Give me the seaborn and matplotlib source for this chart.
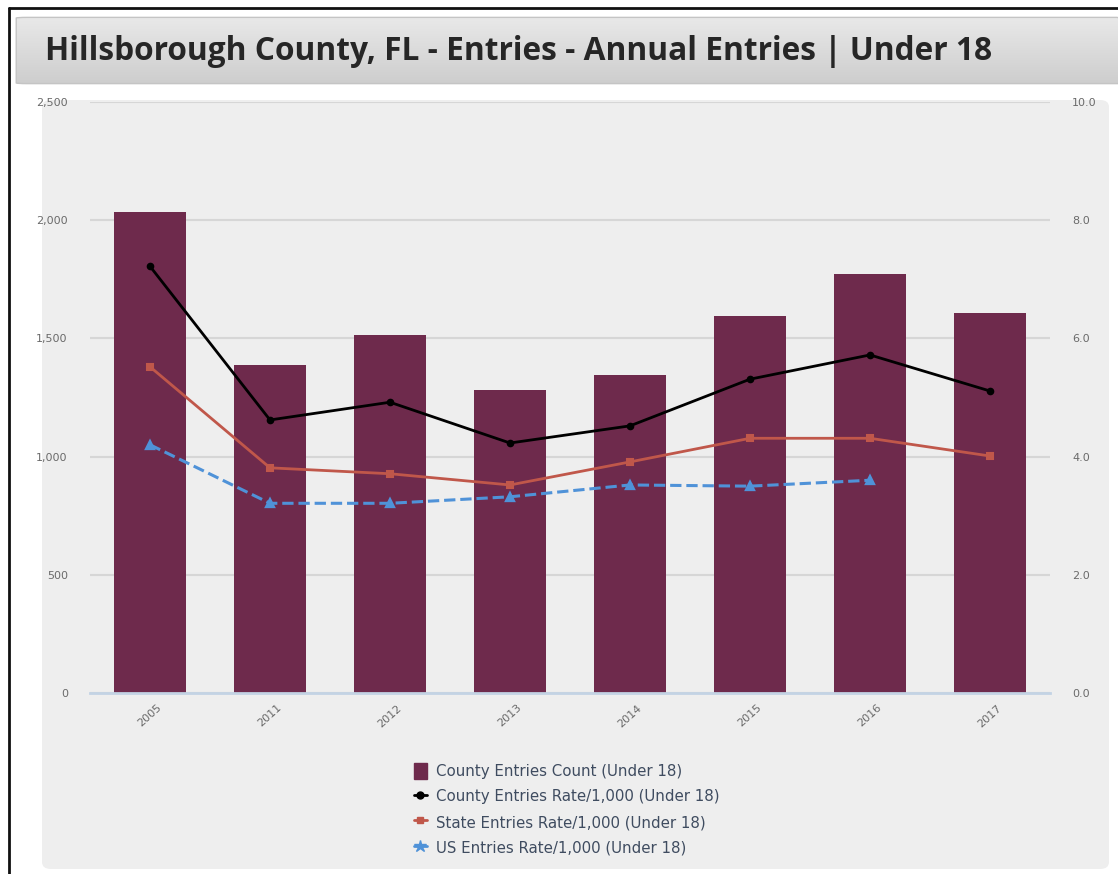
import numpy as np
import pandas as pd
import matplotlib
matplotlib.use("Agg")
import matplotlib.pyplot as plt
import seaborn as sns
from matplotlib.patches import FancyBboxPatch, Patch
from matplotlib.lines import Line2D
from matplotlib.ticker import FuncFormatter, FixedLocator

# ---- data ----
years = ["2005", "2011", "2012", "2013", "2014", "2015", "2016", "2017"]
county_count = [2035, 1387, 1514, 1282, 1345, 1595, 1772, 1607]
county_rate = [7.22, 4.62, 4.92, 4.23, 4.52, 5.31, 5.72, 5.11]
state_rate = [5.52, 3.81, 3.71, 3.52, 3.91, 4.31, 4.31, 4.01]
us_rate = [4.20, 3.21, 3.21, 3.32, 3.52, 3.50, 3.60, np.nan]
title = "Hillsborough County, FL - Entries - Annual Entries | Under 18"
legend_labels = ["County Entries Count (Under 18)",
                 "County Entries Rate/1,000 (Under 18)",
                 "State Entries Rate/1,000 (Under 18)",
                 "US Entries Rate/1,000 (Under 18)"]

df = pd.DataFrame({"year": years, "count": county_count,
                   "county": county_rate, "state": state_rate, "us": us_rate})

BAR = "#6e2a4c"
RED = "#c0574a"
BLUE = "#4f92d8"
BLACK = "#000000"
TXT = "#6a6a6a"

sns.set_theme(style="white")
plt.rcParams["font.family"] = ["DejaVu Sans"]

W, H = 1118, 874
fig = plt.figure(figsize=(W / 100, H / 100), dpi=100)
fig.patch.set_facecolor("white")

def fx(px):
    return px / W

def fy(py):
    return 1 - py / H

# gray panel (behind everything)
panel = FancyBboxPatch((fx(42), fy(869)), fx(1109) - fx(42), fy(100) - fy(869),
                       boxstyle="round,pad=0,rounding_size=0.008",
                       transform=fig.transFigure, facecolor="#eeeeee",
                       edgecolor="none", zorder=-10)
fig.patches.append(panel)

# title bar with gradient
tax = fig.add_axes([fx(14), fy(85), fx(1130) - fx(14), fy(16) - fy(85)])
grad = np.linspace(0, 1, 100).reshape(-1, 1)
tax.imshow(grad, aspect="auto", cmap=matplotlib.colors.LinearSegmentedColormap.from_list(
    "g", ["#e9e9e9", "#cdcdcd"]), extent=[0, 1, 0, 1], origin="upper")
clip = FancyBboxPatch((0.002, 0.02), 0.996, 0.96, boxstyle="round,pad=0,rounding_size=0.01",
                      transform=tax.transAxes, facecolor="none", edgecolor="#c4c4c4", lw=1)
tax.add_patch(clip)
tax.images[0].set_clip_path(clip)
tax.set_xlim(0, 1); tax.set_ylim(0, 1)
tax.axis("off")
fig.text(fx(45), fy(52), title, fontsize=22.8, fontweight="bold", color="#262626",
         family="Open Sans", va="center", ha="left")

# black frame
fig.add_artist(Line2D([fx(9), 1], [fy(8), fy(8)], transform=fig.transFigure, color="#111111", lw=2))
fig.add_artist(Line2D([fx(9), fx(9)], [fy(8), 0], transform=fig.transFigure, color="#111111", lw=2))

# main axes
ax = fig.add_axes([fx(90), fy(693), fx(1050) - fx(90), fy(102) - fy(693)])
ax.set_facecolor("none")
sns.barplot(data=df, x="year", y="count", color=BAR, width=0.6, saturation=1,
            ax=ax, zorder=2, linewidth=0, edgecolor=BAR)
ax.set_ylim(0, 2500)
ax.set_xlim(-0.5, 7.5)
ax.yaxis.set_major_locator(FixedLocator([0, 500, 1000, 1500, 2000, 2500]))
ax.yaxis.set_major_formatter(FuncFormatter(lambda v, p: f"{int(v):,}"))
ax.grid(axis="y", color="#d6d6d6", lw=1.5, zorder=0)
ax.set_axisbelow(True)
for s in ["top", "left", "right"]:
    ax.spines[s].set_visible(False)
ax.spines["bottom"].set_color("#c3d3e4")
ax.spines["bottom"].set_linewidth(2)
ax.spines["bottom"].set_zorder(3)
ax.set_xlabel(""); ax.set_ylabel("")
ax.tick_params(axis="y", length=0, labelsize=8, labelcolor=TXT, pad=16)
ax.tick_params(axis="x", which="major", length=0, labelsize=8, labelcolor=TXT, pad=7)
ax.set_xticks(np.arange(0.5, 7.5, 1), minor=True)
ax.tick_params(axis="x", which="minor", length=7, color="#c3d3e4", width=1.2)
for lab in ax.get_xticklabels():
    lab.set_rotation(42)
    lab.set_ha("center")
    lab.set_va("top")

ax2 = ax.twinx()
ax2.set_facecolor("none")
sns.pointplot(data=df, x="year", y="county", color=BLACK, markers="o",
              linestyles="-", errorbar=None, ax=ax2, markersize=4, linewidth=2)
sns.pointplot(data=df, x="year", y="state", color=RED, markers="s",
              linestyles="-", errorbar=None, ax=ax2, markersize=4.5, linewidth=2)
sns.pointplot(data=df, x="year", y="us", color=BLUE, markers="^",
              linestyles="--", errorbar=None, ax=ax2, markersize=6, linewidth=2.2)
ax2.set_ylim(0, 10)
ax2.set_xlim(-0.5, 7.5)
ax2.yaxis.set_major_locator(FixedLocator([0, 2, 4, 6, 8, 10]))
ax2.yaxis.set_major_formatter(FuncFormatter(lambda v, p: f"{v:.1f}"))
for s in ["top", "left", "right", "bottom"]:
    ax2.spines[s].set_visible(False)
ax2.set_xlabel(""); ax2.set_ylabel("")
ax2.tick_params(axis="y", length=0, labelsize=8, labelcolor=TXT, pad=16)
ax2.grid(False)

# legend
handles = [
    Patch(facecolor=BAR, edgecolor=BAR),
    Line2D([0], [0], color=BLACK, marker="o", markersize=5, lw=2),
    Line2D([0], [0], color=RED, marker="s", markersize=5, lw=2),
    Line2D([0], [0], color=BLUE, marker="*", markersize=9, lw=2),
]
leg = fig.legend(handles, legend_labels, loc="upper left",
                 bbox_to_anchor=(fx(406), fy(755)), frameon=False,
                 fontsize=10.8, handlelength=0.9, handleheight=1.3,
                 handletextpad=0.6, labelspacing=0.62, borderpad=0)
for t in leg.get_texts():
    t.set_color("#3f4c60")

fig.savefig("out.png", dpi=100)
